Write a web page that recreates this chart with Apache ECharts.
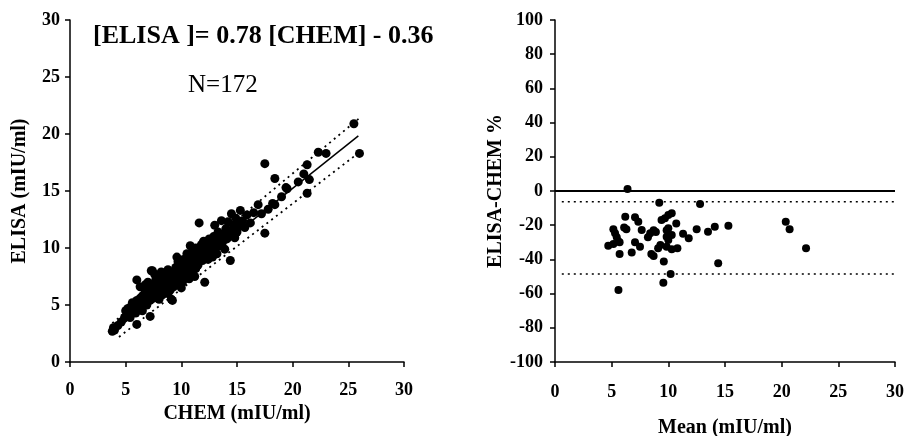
<!DOCTYPE html>
<html>
<head>
<meta charset="utf-8">
<script src="https://cdn.jsdelivr.net/npm/echarts@6/dist/echarts.min.js"></script>
<style>
html,body{margin:0;padding:0;background:#fff;}
#chart{width:906px;height:436px;}
</style>
</head>
<body>
<div id="chart"></div>
<script>
// ----- Data -----
var xTicks = [0, 5, 10, 15, 20, 25, 30];
var leftYTicks = [0, 5, 10, 15, 20, 25, 30];
var rightYTicks = [-100, -80, -60, -40, -20, 0, 20, 40, 60, 80, 100];

// CHEM vs ELISA (mIU/ml), N=172
var methodPoints = [
  [3.8,2.7],[3.9,3.0],[4.0,2.8],[4.3,3.2],[4.6,3.5],[4.9,3.9],[5.0,4.5],[5.2,4.7],[5.3,4.2],[5.5,4.4],
  [5.5,4.9],[5.7,4.6],[5.8,5.0],[5.9,4.3],[6.0,3.3],[6.0,5.4],[6.1,4.8],[6.0,7.2],[5.6,5.2],[5.4,3.9],
  [6.2,5.2],[6.3,5.6],[6.4,4.9],[6.5,5.8],[6.6,5.3],[6.7,6.0],[6.8,5.5],[6.9,5.0],[6.9,6.3],[7.0,5.9],
  [7.1,6.5],[7.2,5.4],[7.2,4.0],[7.3,8.0],[7.4,6.1],[7.5,6.8],[7.5,5.6],[7.6,6.4],[7.7,7.2],[7.8,5.9],
  [7.8,6.7],[7.9,6.2],[8.0,7.5],[8.0,5.5],[8.1,6.9],[8.2,6.4],[8.3,7.1],[8.3,5.9],[8.4,6.6],[8.5,7.8],
  [8.5,6.2],[8.6,7.0],[8.7,6.5],[8.7,7.4],[8.8,6.0],[8.9,6.8],[8.9,7.6],[9.0,7.2],[9.0,6.3],[9.1,5.5],
  [6.3,6.6],[6.5,4.5],[7.0,7.0],[7.6,7.7],[8.2,7.9],[8.8,8.1],[7.4,8.0],[6.8,6.8],[8.0,6.0],[9.2,5.4],
  [9.2,7.0],[9.3,7.8],[9.3,6.6],[9.4,7.4],[9.5,8.3],[9.5,6.9],[9.6,7.6],[9.7,7.1],[9.7,8.8],[9.8,8.0],
  [9.9,7.3],[10.0,7.8],[10.0,8.6],[10.1,7.0],[10.2,8.2],[10.2,9.0],[10.3,7.6],[10.4,8.5],[10.5,7.9],[10.5,9.5],
  [10.6,8.8],[10.7,8.1],[10.7,7.3],[10.8,9.1],[10.9,8.4],[11.0,9.6],[11.0,7.9],[11.1,8.8],[11.2,9.3],[11.3,8.2],
  [11.3,10.0],[11.4,9.0],[11.5,8.5],[11.5,9.7],[11.6,12.2],[11.7,9.2],[11.8,10.3],[11.9,8.9],[12.0,9.8],[12.1,7.0],
  [10.0,6.5],[10.8,10.2],[11.2,7.5],[9.6,9.2],[12.0,10.6],
  [12.2,9.4],[12.3,10.2],[12.4,9.0],[12.5,10.8],[12.6,9.7],[12.7,10.4],[12.8,9.2],[12.9,11.0],[13.0,10.0],[13.1,10.6],
  [13.2,9.5],[13.3,11.4],[13.4,10.2],[13.5,10.9],[13.6,12.4],[13.7,10.5],[13.8,11.2],[13.9,9.9],[14.0,11.7],[14.1,10.8],
  [14.2,12.3],[14.3,11.3],[14.4,8.9],[14.5,13.0],[14.6,11.6],[14.7,12.0],[14.8,10.9],[14.9,12.6],[15.0,11.4],[13.0,12.0],
  [15.2,12.0],[15.3,13.3],[15.5,12.4],[15.7,11.8],[15.9,12.9],[16.2,12.2],[16.5,13.1],[16.9,13.8],[17.2,13.0],[17.5,11.3],
  [17.5,17.4],[17.8,13.4],[18.2,13.9],[18.4,13.8],[18.4,16.1],[19.0,14.5],[19.5,15.2],
  [20.5,15.8],[21.3,14.8],[21.3,17.3],[21.5,16.0],[22.3,18.4],[23.0,18.3],[25.5,20.9],[26.0,18.3],[19.4,15.3],[21.0,16.5]
];

// Regression line and dotted band (endpoints)
var regressionLine = [[3.9, 2.68], [25.9, 19.84]];
var upperBand = [[3.8, 3.4], [26.0, 21.4]];
var lowerBand = [[4.4, 2.2], [26.0, 18.4]];

// Mean vs ELISA-CHEM %
var diffPoints = [
  [6.4,1.2],[9.2,-6.8],[12.8,-7.6],[6.2,-15],[7.06,-15.3],[7.35,-18],[10.3,-13],[10.0,-14],[9.7,-16],[9.4,-17],
  [10.7,-19],[5.15,-22.4],[6.1,-21.3],[6.3,-22.4],[7.65,-22.8],[10.0,-21.8],[8.7,-23],[8.9,-24],[9.85,-23],[11.3,-25],
  [11.8,-27.7],[12.5,-22.4],[13.5,-23.8],[14.1,-20.9],[5.3,-24.7],[5.45,-27],[5.6,-29.6],[4.7,-32],[5.15,-31],[5.7,-30],
  [7.06,-30],[7.5,-32.6],[8.2,-27],[8.4,-24.7],[9.85,-26.7],[10.3,-25.7],[10.0,-28.6],[9.3,-31.6],[9.1,-33.5],[9.85,-32.6],
  [10.3,-34],[10.8,-33.5],[5.7,-36.8],[6.77,-36],[8.5,-36.8],[8.7,-38],[9.6,-41.3],[14.4,-42.3],[10.2,-48.5],[9.56,-53.6],
  [5.6,-57.9],[15.3,-20.3],[20.36,-18],[20.7,-22.4],[22.15,-33.5]
];
var zeroLine = [[0, 0], [30, 0]];
var upperLimit = [[0.6, -6.3], [30, -6.3]];
var lowerLimit = [[0.6, -48.6], [30, -48.6]];

// ----- Chart -----
var FONT = "'Liberation Serif','Times New Roman',serif";
var chart = echarts.init(document.getElementById('chart'), null, {renderer: 'canvas'});

function xAxisCfg(grid, name, gap, margin) {
  return {
    type: 'value', gridIndex: grid, min: xTicks[0], max: xTicks[xTicks.length - 1], interval: 5,
    name: name, nameLocation: 'middle', nameGap: gap,
    nameTextStyle: {fontFamily: FONT, fontWeight: 'bold', fontSize: 20, color: '#000'},
    axisLine: {onZero: false, lineStyle: {color: '#000', width: 1.5}},
    axisTick: {show: true, length: 5, lineStyle: {color: '#000', width: 1.5}},
    axisLabel: {fontFamily: FONT, fontWeight: 'bold', fontSize: 18, color: '#000', margin: margin},
    splitLine: {show: false}
  };
}
function yAxisCfg(grid, ticks, name, gap, margin) {
  return {
    type: 'value', gridIndex: grid, min: ticks[0], max: ticks[ticks.length - 1], interval: ticks[1] - ticks[0],
    name: name, nameLocation: 'middle', nameGap: gap,
    nameTextStyle: {fontFamily: FONT, fontWeight: 'bold', fontSize: 20, color: '#000'},
    axisLine: {onZero: false, lineStyle: {color: '#000', width: 1.5}},
    axisTick: {show: true, length: 5, lineStyle: {color: '#000', width: 1.5}},
    axisLabel: {fontFamily: FONT, fontWeight: 'bold', fontSize: 18, color: '#000', margin: margin},
    splitLine: {show: false}
  };
}

var option = {
  backgroundColor: '#fff',
  animation: false,
  title: [
    {text: '[ELISA ]= 0.78 [CHEM] - 0.36', left: 88, top: 18,
     textStyle: {fontFamily: FONT, fontWeight: 'bold', fontSize: 26, color: '#000'}},
    {text: 'N=172', left: 183, top: 68,
     textStyle: {fontFamily: FONT, fontWeight: 'normal', fontSize: 25, color: '#000'}}
  ],
  grid: [
    {left: 70, top: 20, width: 334, height: 342, outerBoundsMode: 'none', containLabel: false},
    {left: 555, top: 20, width: 340, height: 342, outerBoundsMode: 'none', containLabel: false}
  ],
  xAxis: [
    xAxisCfg(0, 'CHEM (mIU/ml)', 41, 19),
    xAxisCfg(1, 'Mean (mIU/ml)', 56, 21)
  ],
  yAxis: [
    yAxisCfg(0, leftYTicks, 'ELISA (mIU/ml)', 40, 10),
    yAxisCfg(1, rightYTicks, 'ELISA-CHEM %', 30, 12)
  ],
  series: [
    {type: 'scatter', xAxisIndex: 0, yAxisIndex: 0, data: methodPoints, symbolSize: 9,
     itemStyle: {color: '#000', opacity: 1}},
    {type: 'line', xAxisIndex: 0, yAxisIndex: 0, data: regressionLine, showSymbol: false, symbol: 'none',
     lineStyle: {color: '#000', width: 1.5, type: 'solid'}},
    {type: 'line', xAxisIndex: 0, yAxisIndex: 0, data: upperBand, symbol: 'none',
     lineStyle: {color: '#000', width: 1.8, type: [2, 4]}},
    {type: 'line', xAxisIndex: 0, yAxisIndex: 0, data: lowerBand, symbol: 'none',
     lineStyle: {color: '#000', width: 1.8, type: [2, 4]}},
    {type: 'line', xAxisIndex: 1, yAxisIndex: 1, data: zeroLine, symbol: 'none',
     lineStyle: {color: '#000', width: 2, type: 'solid'}},
    {type: 'line', xAxisIndex: 1, yAxisIndex: 1, data: upperLimit, symbol: 'none',
     lineStyle: {color: '#000', width: 1.5, type: [2, 4]}},
    {type: 'line', xAxisIndex: 1, yAxisIndex: 1, data: lowerLimit, symbol: 'none',
     lineStyle: {color: '#000', width: 1.5, type: [2, 4]}},
    {type: 'scatter', xAxisIndex: 1, yAxisIndex: 1, data: diffPoints, symbolSize: 8,
     itemStyle: {color: '#000', opacity: 1}}
  ]
};
chart.setOption(option);
</script>
</body>
</html>
